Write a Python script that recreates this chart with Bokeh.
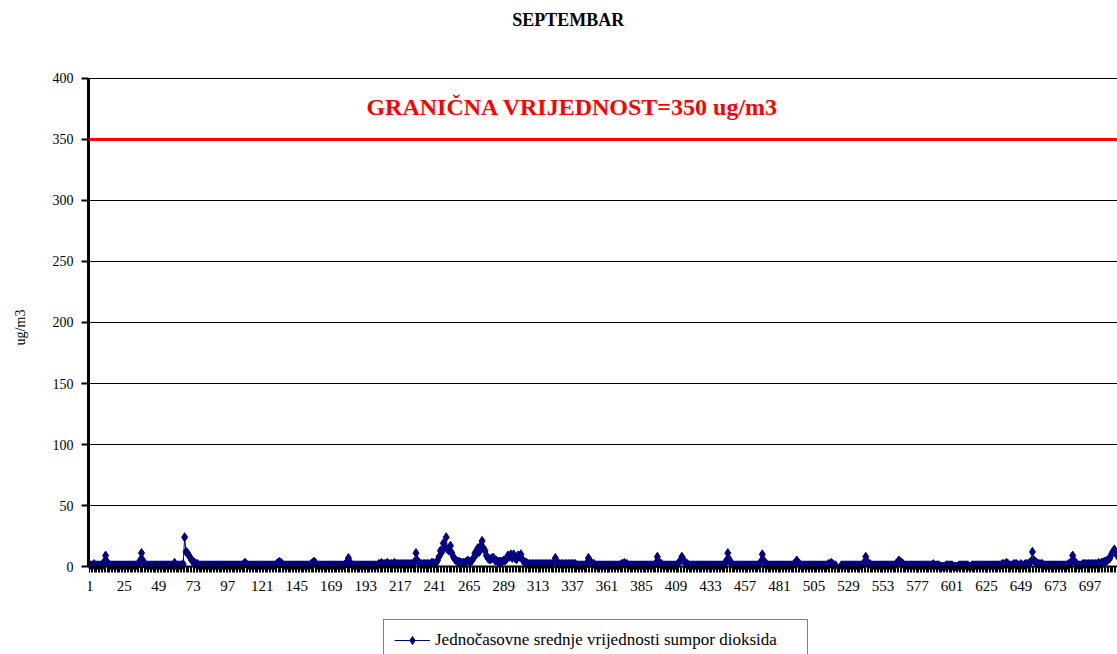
import math
from bokeh.plotting import figure
from bokeh.models import FixedTicker, Range1d, Span, Label, Legend, LegendItem
from bokeh.embed import file_html
from bokeh.resources import INLINE

# ---- data: hourly SO2 means (ug/m3), September, 30 days x 24 hours ----
day01 = [1,1,1,2,1,1,1,1,1,1,4,9,4,2,1,1,1,1,1,1,1,1,1,1]
day02 = [1,1,1,1,1,1,1,1,1,1,2,5,11,5,2,1,1,1,1,1,1,1,1,1]
day03 = [1,1,1,1,1,1,1,1,1,1,1,3,1,1,1,1,1,2,24,12,11,9,7,5]
day04 = [4,3,2,2,1,1,1,1,1,1,1,1,1,1,1,1,1,1,1,1,1,1,1,1]
day05 = [1,1,1,1,1,1,1,1,1,1,1,2,3,2,1,1,1,1,1,1,1,1,1,1]
day06 = [1,1,1,1,1,1,1,1,1,1,2,3,4,3,2,1,1,1,1,1,1,1,1,1]
day07 = [1,1,1,1,1,1,1,1,1,1,2,3,4,3,1,1,1,1,1,1,1,1,1,1]
day08 = [1,1,1,1,1,1,1,1,1,1,2,4,7,3,2,1,1,1,1,1,1,1,1,1]
day09 = [1,1,1,1,1,1,1,1,1,2,2,3,2,2,2,3,2,2,2,2,3,2,2,2]
day10 = [2,2,2,2,2,2,2,2,2,2,4,11,5,3,2,2,2,2,2,2,2,2,3,3]
day11 = [2,3,5,8,13,12,19,16,24,14,13,17,11,8,6,5,4,4,3,3,3,3,4,5]
day12 = [4,4,5,7,11,10,15,12,17,21,15,13,9,7,6,6,7,7,5,5,4,4,4,4]
day13 = [5,5,6,9,8,10,7,10,7,6,9,8,10,6,4,3,3,2,2,2,2,2,2,2]
day14 = [2,2,2,2,2,2,2,2,2,2,2,3,7,4,2,2,2,2,2,2,2,2,2,2]
day15 = [2,2,2,1,1,1,1,1,1,1,3,7,5,3,2,2,1,1,1,1,1,1,1,1]
day16 = [1,1,1,1,1,1,1,1,1,1,2,2,3,2,2,1,1,1,1,1,1,1,1,1]
day17 = [1,1,1,1,1,1,1,1,1,1,3,8,4,2,2,1,1,1,1,1,1,1,1,1]
day18 = [1,2,3,5,8,6,3,2,2,1,1,1,1,1,1,1,1,1,1,1,1,1,1,1]
day19 = [1,1,1,1,1,1,1,1,1,1,2,5,11,6,3,2,1,1,1,1,1,1,1,1]
day20 = [1,1,1,1,1,1,1,1,1,1,2,4,10,5,2,2,1,1,1,1,1,1,1,1]
day21 = [1,1,1,1,1,1,1,1,1,1,2,3,5,3,2,1,1,1,1,1,1,1,1,1]
day22 = [1,1,1,1,1,1,1,1,1,1,2,2,3,2,1,1,None,None,None,1,1,1,1,1]
day23 = [1,1,1,1,1,1,1,1,1,1,2,3,8,4,2,2,1,1,1,1,1,1,1,1]
day24 = [1,1,1,1,1,1,1,1,1,2,3,5,4,3,2,1,1,1,1,1,1,1,1,1]
day25 = [1,1,1,1,1,1,1,1,1,1,1,2,1,1,1,1,0,0,0,0,1,1,1,1]
day26 = [1,0,0,0,0,1,1,1,1,1,1,1,0,0,1,1,1,1,1,1,1,1,1,1]
day27 = [1,1,1,1,1,1,1,1,1,1,1,2,2,2,3,2,1,1,1,2,2,2,1,1]
day28 = [2,1,1,2,2,2,3,4,12,5,4,3,2,2,2,2,1,1,1,1,1,1,1,1]
day29 = [1,1,1,1,1,1,1,1,1,2,2,4,9,5,2,2,1,1,1,2,2,2,2,2]
day30 = [2,2,2,2,2,2,3,2,3,3,4,4,5,6,7,10,12,14,11,9,8,7,6,5]

days = [day01, day02, day03, day04, day05, day06, day07, day08, day09, day10,
        day11, day12, day13, day14, day15, day16, day17, day18, day19, day20,
        day21, day22, day23, day24, day25, day26, day27, day28, day29, day30]

tick_labels = list(range(1, 721, 24))
y_ticks = list(range(0, 401, 50))
limit_value = 350
limit_text = "GRANIČNA VRIJEDNOST=350 ug/m3"
series_name = "Jednočasovne srednje vrijednosti sumpor dioksida"
title_text = "SEPTEMBAR"

values = [float("nan") if v is None else float(v) for d in days for v in d]
hours = list(range(1, len(values) + 1))

SERIF = "Liberation Serif"
NAVY = "#000080"

# the frame fills the whole figure height; the value axis spans 0..400 only
p = figure(width=1117, height=654, output_backend="svg", toolbar_location=None,
           x_range=Range1d(0.1, 716.2), y_range=Range1d(-72.1, 463.9),
           min_border_left=88, min_border_right=0, min_border_top=0,
           min_border_bottom=0, background_fill_color="white",
           border_fill_color="white")
p.outline_line_color = None
p.title.visible = False

# grid
p.xgrid.visible = False
p.ygrid.grid_line_color = "black"
p.ygrid.grid_line_width = 1

# y axis
p.yaxis.ticker = FixedTicker(ticks=y_ticks)
p.yaxis.bounds = (0, 400)
p.yaxis.axis_line_color = "black"
p.yaxis.axis_line_width = 3
p.yaxis.major_tick_out = 7
p.yaxis.major_tick_in = 0
p.yaxis.major_tick_line_width = 2
p.yaxis.major_tick_line_color = "black"
p.yaxis.minor_tick_out = 0
p.yaxis.minor_tick_in = 0
p.yaxis.major_label_standoff = 8
p.yaxis.major_label_text_font = SERIF
p.yaxis.major_label_text_font_size = "14px"
p.yaxis.major_label_text_color = "black"
p.yaxis.axis_label = "ug/m3"
p.yaxis.axis_label_text_font = SERIF
p.yaxis.axis_label_text_font_size = "14px"
p.yaxis.axis_label_text_font_style = "normal"
p.yaxis.axis_label_text_color = "black"
p.yaxis.axis_label_standoff = 22

# x axis drawn at y = 0 inside the frame
p.xaxis.fixed_location = 0
p.xaxis.ticker = FixedTicker(ticks=tick_labels, minor_ticks=hours)
p.xaxis.axis_line_color = "black"
p.xaxis.axis_line_width = 2
p.xaxis.major_tick_out = 6
p.xaxis.major_tick_in = 0
p.xaxis.major_tick_line_color = "black"
p.xaxis.minor_tick_out = 6
p.xaxis.minor_tick_in = 0
p.xaxis.minor_tick_line_color = "black"
p.xaxis.major_label_standoff = 8
p.xaxis.major_label_text_font = SERIF
p.xaxis.major_label_text_font_size = "15px"
p.xaxis.major_label_text_color = "black"

# title
p.add_layout(Label(x=334, y=448, text=title_text, text_align="center",
                   text_baseline="middle", text_color="black", text_font=SERIF,
                   text_font_size="18px", text_font_style="bold"))

# limit line and label
p.add_layout(Span(location=limit_value, dimension="width", line_color="red",
                  line_width=3))
p.add_layout(Label(x=337, y=377, text=limit_text, text_align="center",
                   text_baseline="middle", text_color="red", text_font=SERIF,
                   text_font_size="24px", text_font_style="bold"))

# series
r_line = p.line(hours, values, line_color=NAVY, line_width=1)
r_pts = p.scatter(hours, values, marker="diamond", size=9, fill_color=NAVY,
                  line_color=NAVY)

legend = Legend(items=[LegendItem(label=series_name, renderers=[r_line, r_pts])],
                location=(295, -7), orientation="horizontal",
                border_line_color="black", border_line_width=1,
                label_text_font=SERIF, label_text_font_size="17px",
                label_text_color="black", glyph_width=36, label_standoff=5,
                label_width=362, padding=10, margin=0,
                background_fill_color="white")
p.add_layout(legend, "center")

open("out.html", "w").write(file_html(p, INLINE))
